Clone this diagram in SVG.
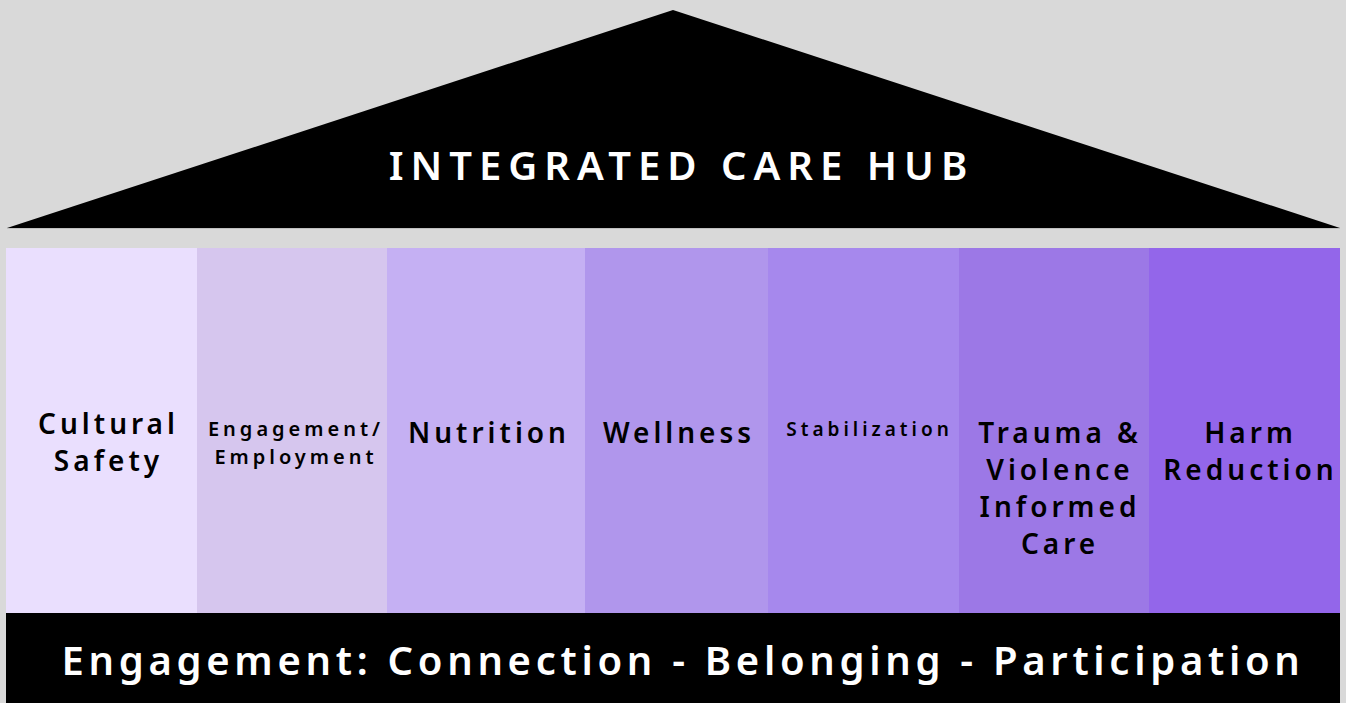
<svg xmlns="http://www.w3.org/2000/svg" width="1346" height="703" viewBox="0 0 1346 703">
<style>
.lbl{font-family:"Noto Sans","DejaVu Sans",sans-serif;font-weight:600;fill:#000;text-anchor:middle;letter-spacing:4px}
.big{font-size:28px}
.sm{font-size:20px}
.xs{font-size:19px}
.wt{font-family:"Noto Sans","DejaVu Sans",sans-serif;font-weight:600;fill:#fff;text-anchor:middle}
</style>
<rect x="0" y="0" width="1346" height="703" fill="#d9d9d9"/>
<g id="roof">
<polygon points="7,228 673,10 1340,228" fill="#000"/>
<line x1="7" y1="228.5" x2="1340" y2="228.5" stroke="#bfbfbf" stroke-width="1"/>
<text class="wt" x="681.5" y="180" font-size="40" letter-spacing="7">INTEGRATED CARE HUB</text>
</g>
<g id="col-cultural-safety">
<rect x="6" y="248" width="191" height="365" fill="#eadffe"/>
<text class="lbl big" x="108.5" y="434">Cultural</text>
<text class="lbl big" x="108.5" y="471">Safety</text>
</g>
<g id="col-engagement-employment">
<rect x="197" y="248" width="190" height="365" fill="#d6c6ee"/>
<text class="lbl sm" x="296" y="436">Engagement/</text>
<text class="lbl sm" x="296" y="464">Employment</text>
</g>
<g id="col-nutrition">
<rect x="387" y="248" width="198" height="365" fill="#c5b0f3"/>
<text class="lbl big" x="489" y="443">Nutrition</text>
</g>
<g id="col-wellness">
<rect x="585" y="248" width="183" height="365" fill="#b096ec"/>
<text class="lbl big" x="679" y="443">Wellness</text>
</g>
<g id="col-stabilization">
<rect x="768" y="248" width="191" height="365" fill="#a688ed"/>
<text class="lbl xs" x="869.5" y="436">Stabilization</text>
</g>
<g id="col-trauma">
<rect x="959" y="248" width="190" height="365" fill="#9c78e6"/>
<text class="lbl big" x="1060" y="443">Trauma &amp;</text>
<text class="lbl big" x="1060" y="480">Violence</text>
<text class="lbl big" x="1060" y="517">Informed</text>
<text class="lbl big" x="1060" y="554">Care</text>
</g>
<g id="col-harm-reduction">
<rect x="1149" y="248" width="191" height="365" fill="#9366ea"/>
<text class="lbl big" x="1250.5" y="443">Harm</text>
<text class="lbl big" x="1250.5" y="480">Reduction</text>
</g>
<g id="foundation">
<rect x="6" y="613" width="1334" height="90" fill="#000"/>
<text class="wt" x="683" y="675" font-size="40" letter-spacing="4.7">Engagement: Connection - Belonging - Participation</text>
</g>
</svg>
